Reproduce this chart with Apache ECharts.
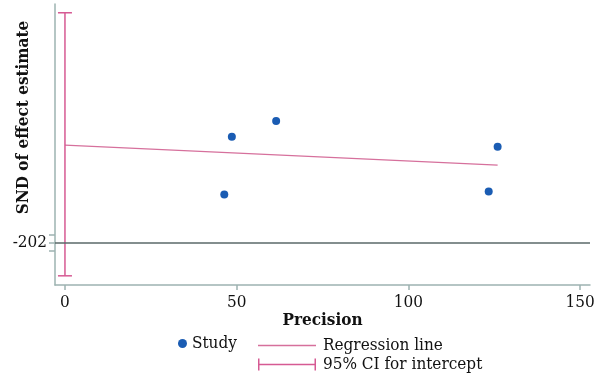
<!DOCTYPE html>
<html>
<head>
<meta charset="utf-8">
<script src="https://cdn.jsdelivr.net/npm/echarts@6/dist/echarts.min.js"></script>
<style>html,body{margin:0;padding:0;background:#fff}#c{width:600px;height:385px}</style>
</head>
<body>
<div id="c"></div>
<script>
// Study points
var precision = [48.6, 61.5, 46.4, 126.0, 123.4];
var snd = [25.4, 29.2, 11.6, 23.0, 12.3];
// Regression line end points
var regX = [0, 126.0];
var regY = [23.4, 18.6];
// 95% CI for intercept
var ciX = 0;
var ciLow = -7.9;
var ciHigh = 55.1;
// Axes ticks
var xTickValues = [0, 50, 100, 150];
var yTickValues = [-2, 0, 2];
var yTickLabels = ['-2', '0', '2'];

var FONT = "'DejaVu Serif Condensed', 'Liberation Serif', serif";
var axisColor = '#9db3b1';

var chart = echarts.init(document.getElementById('c'));
var studyData = precision.map(function (p, i) { return [p, snd[i]]; });
var regData = regX.map(function (x, i) { return [x, regY[i]]; });

chart.setOption({
  animation: false,
  textStyle: { fontFamily: FONT },
  grid: { left: 55, right: 10, top: 4, bottom: 100, containLabel: false, outerBoundsMode: 'none' },
  xAxis: {
    type: 'value', min: -2.9, max: 152.9,
    name: 'Precision', nameLocation: 'middle', nameGap: 27, nameMoveOverlap: false,
    nameTextStyle: { fontFamily: FONT, fontWeight: 'bold', fontSize: 17, color: '#111' },
    axisLine: { show: true, onZero: false, lineStyle: { color: axisColor, width: 1.5 } },
    axisTick: { show: true, length: 5, customValues: xTickValues, lineStyle: { color: axisColor, width: 1.5 } },
    axisLabel: { customValues: xTickValues, margin: 9, fontSize: 17, color: '#111', fontFamily: FONT },
    splitLine: { show: false }
  },
  yAxis: {
    type: 'value', min: -10.1, max: 57.2,
    name: 'SND of effect estimate', nameLocation: 'middle', nameGap: 23, nameRotate: 90, nameMoveOverlap: false,
    nameTextStyle: { fontFamily: FONT, fontWeight: 'bold', fontSize: 17, color: '#111', padding: [0, 0, 0, 54] },
    axisLine: { show: true, onZero: false, lineStyle: { color: axisColor, width: 1.5 } },
    axisTick: { show: true, length: 6, customValues: yTickValues, lineStyle: { color: axisColor, width: 1.5 } },
    axisLabel: {
      customValues: [0], margin: 8, fontSize: 17, color: '#111', fontFamily: FONT,
      formatter: function () { return yTickLabels.join(''); }
    },
    splitLine: { show: false }
  },
  legend: [
    {
      data: ['Study'], left: 173, top: 330, itemWidth: 9, itemHeight: 9, itemGap: 0,
      textStyle: { fontSize: 17, color: '#111', fontFamily: FONT, padding: [0, 0, 0, 0] }
    },
    {
      data: [
        { name: 'Regression line', icon: 'path://M0,0L0,0Z M0,5.3L58,5.3L58,6.7L0,6.7Z M58,12L58,12Z' },
        { name: '95% CI for intercept', icon: 'path://M0,0L1.5,0L1.5,12L0,12Z M1.5,5.25L56.5,5.25L56.5,6.75L1.5,6.75Z M56.5,0L58,0L58,12L56.5,12Z' }
      ],
      orient: 'vertical', left: 253, top: 331, itemWidth: 58, itemHeight: 12, itemGap: 0,
      textStyle: { fontSize: 17, color: '#111', fontFamily: FONT, lineHeight: 19, padding: [0, 0, 0, 2] }
    }
  ],
  series: [
    {
      name: 'Study', type: 'scatter', data: studyData, symbolSize: 8,
      itemStyle: { color: '#1a5cb3', opacity: 1 }, z: 5,
      markLine: {
        silent: true, symbol: 'none', label: { show: false },
        lineStyle: { color: '#5a6868', width: 1.5, type: 'solid' },
        data: [{ yAxis: 0 }]
      }
    },
    {
      name: 'Regression line', type: 'line', data: regData, showSymbol: false, symbol: 'none',
      lineStyle: { color: '#d6709c', width: 1.4 }, itemStyle: { color: '#d6709c' }, z: 3
    },
    {
      name: '95% CI for intercept', type: 'custom', z: 4,
      itemStyle: { color: '#d65a93' },
      data: [[ciX, ciLow, ciHigh]],
      renderItem: function (params, api) {
        var lo = api.coord([api.value(0), api.value(1)]);
        var hi = api.coord([api.value(0), api.value(2)]);
        var w = 7;
        var st = { stroke: '#d65a93', lineWidth: 1.5 };
        return {
          type: 'group',
          children: [
            { type: 'line', shape: { x1: lo[0], y1: lo[1], x2: hi[0], y2: hi[1] }, style: st },
            { type: 'line', shape: { x1: lo[0] - w, y1: lo[1], x2: lo[0] + w, y2: lo[1] }, style: st },
            { type: 'line', shape: { x1: hi[0] - w, y1: hi[1], x2: hi[0] + w, y2: hi[1] }, style: st }
          ]
        };
      }
    }
  ]
});
</script>
</body>
</html>
